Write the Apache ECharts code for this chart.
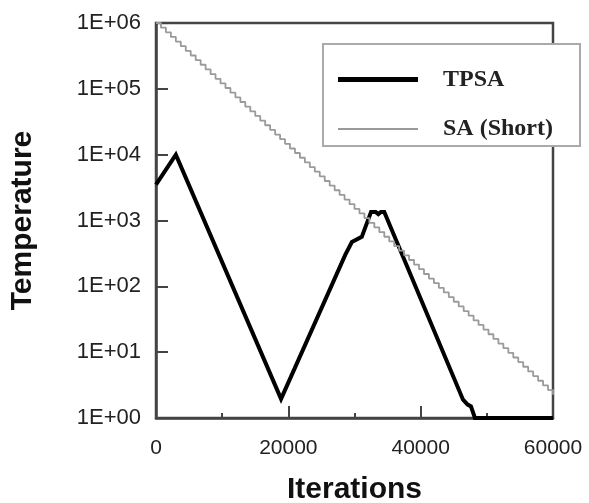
<!DOCTYPE html>
<html>
<head>
<meta charset="utf-8">
<title>Temperature vs Iterations</title>
<script src="https://cdn.jsdelivr.net/npm/echarts@6/dist/echarts.min.js"></script>
<style>
  html, body { margin: 0; padding: 0; background: #fff; }
  #chart { width: 589px; height: 503px; }
</style>
</head>
<body>
<div id="chart"></div>
<script>
// TPSA temperature trajectory: [iteration, temperature]
const tpsaPoints = [
  [0, 3500], [3000, 10000], [18900, 1.95],
  [28600, 300], [29600, 470], [31100, 565],
  [32500, 1350], [33200, 1350], [33600, 1250], [34000, 1350], [34500, 1350],
  [46400, 1.9], [47100, 1.6], [47600, 1.5], [48200, 1], [60000, 1]
];

// Plain SA (short schedule): temperature held for a fixed number of iterations per level
const saStepLength = 750;
const saLevels = [
  1000000, 850000, 722500, 614000, 522000, 444000, 377000, 321000, 272000, 232000,
  197000, 167000, 142000, 121000, 103000, 87400, 74300, 63100, 53600, 45600,
  38800, 32900, 28000, 23800, 20200, 17200, 14600, 12400, 10600, 8980,
  7630, 6490, 5510, 4690, 3980, 3390, 2880, 2450, 2080, 1770,
  1500, 1280, 1090, 922, 784, 666, 566, 481, 409, 348,
  296, 251, 214, 182, 154, 131, 112, 95, 80.7, 68.6,
  58.3, 49.6, 42.1, 35.8, 30.4, 25.9, 22.0, 18.7, 15.9, 13.5,
  11.5, 9.77, 8.30, 7.06, 6.00, 5.10, 4.33, 3.68, 3.13, 2.66,
  2.26
];

const seriesNames = ['TPSA', 'SA (Short)'];
const xTickValues = [0, 20000, 40000, 60000];
const yDecades = [1, 10, 100, 1000, 10000, 100000, 1000000];

const saPoints = saLevels.map((t, i) => [i * saStepLength, t]);

const axisColor = '#444';
const sansFont = '"Liberation Sans", Arial, Helvetica, sans-serif';
const serifFont = '"Liberation Serif", "Times New Roman", serif';

function expLabel(v) {
  const e = Math.round(Math.log10(v));
  return '1E+' + (e < 10 ? '0' : '') + e;
}

const chart = echarts.init(document.getElementById('chart'), null, { renderer: 'canvas' });

chart.setOption({
  animation: false,
  backgroundColor: '#fff',
  grid: {
    left: 156, right: 36, top: 23, bottom: 85,
    show: true,
    borderColor: axisColor,
    borderWidth: 2.5,
    backgroundColor: 'transparent',
    containLabel: false,
    outerBoundsMode: 'none'
  },
  xAxis: {
    type: 'value',
    min: xTickValues[0],
    max: xTickValues[xTickValues.length - 1],
    interval: xTickValues[1] - xTickValues[0],
    name: 'Iterations',
    nameLocation: 'middle',
    nameGap: 57,
    nameTextStyle: { fontFamily: sansFont, fontSize: 30, fontWeight: 'bold', color: '#111' },
    axisLine: { show: true, lineStyle: { color: axisColor, width: 2.5 } },
    axisTick: { show: true, inside: true, length: 12, lineStyle: { color: axisColor, width: 2 } },
    minorTick: { show: true, splitNumber: 2, length: 5, lineStyle: { color: axisColor, width: 2 } },
    splitLine: { show: false },
    minorSplitLine: { show: false },
    axisLabel: {
      fontFamily: sansFont, fontSize: 21, color: '#222', margin: 20,
      formatter: v => String(v)
    }
  },
  yAxis: {
    type: 'log',
    logBase: 10,
    min: yDecades[0],
    max: yDecades[yDecades.length - 1],
    splitNumber: yDecades.length - 1,
    name: 'Temperature',
    nameLocation: 'middle',
    nameGap: 118,
    nameRotate: 90,
    nameTextStyle: { fontFamily: sansFont, fontSize: 30, fontWeight: 'bold', color: '#111' },
    axisLine: { show: true, lineStyle: { color: axisColor, width: 2.5 } },
    axisTick: { show: true, inside: true, length: 12, lineStyle: { color: axisColor, width: 2 } },
    splitLine: { show: false },
    axisLabel: {
      fontFamily: sansFont, fontSize: 22, color: '#222', margin: 15,
      formatter: expLabel
    }
  },
  graphic: [{
    type: 'rect',
    z: 3,
    shape: { x: 323, y: 44, width: 257, height: 102 },
    style: { fill: '#fff', stroke: '#aaa', lineWidth: 2 }
  }],
  legend: [{
    data: [seriesNames[0]],
    left: 338, top: 67.5,
    padding: 0,
    icon: 'rect',
    itemWidth: 80, itemHeight: 5,
    selectedMode: false,
    textStyle: { fontFamily: serifFont, fontWeight: 'bold', fontSize: 24, color: '#222', padding: [0, 0, 0, 20] }
  }, {
    data: [seriesNames[1]],
    left: 338, top: 117,
    padding: 0,
    icon: 'rect',
    itemWidth: 80, itemHeight: 2,
    selectedMode: false,
    textStyle: { fontFamily: serifFont, fontWeight: 'bold', fontSize: 24, color: '#222', padding: [0, 0, 0, 20] }
  }],
  series: [{
    name: seriesNames[0],
    type: 'line',
    data: tpsaPoints,
    color: '#000',
    symbol: 'none',
    z: 2,
    lineStyle: { color: '#000', width: 4, join: 'miter' }
  }, {
    name: seriesNames[1],
    type: 'line',
    data: saPoints,
    step: 'end',
    color: '#9a9a9a',
    symbol: 'none',
    z: 2,
    lineStyle: { color: '#9a9a9a', width: 1.8 }
  }]
});
</script>
</body>
</html>
